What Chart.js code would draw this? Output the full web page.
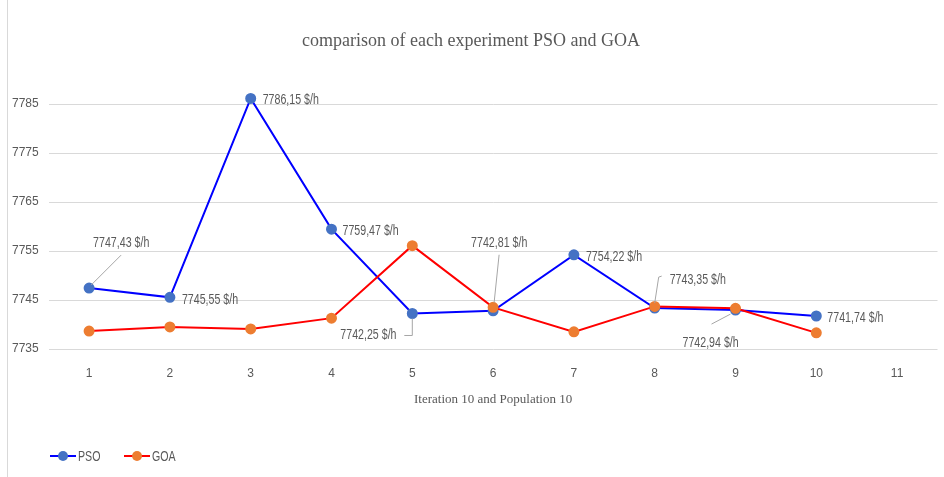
<!DOCTYPE html>
<html>
<head>
<meta charset="utf-8">
<script src="https://cdn.jsdelivr.net/npm/chart.js@4/dist/chart.umd.min.js"></script>
<style>
    html, body { margin: 0; padding: 0; background: #fff; }
    .wrap { position: relative; width: 944px; height: 477px; }
    .frame { position: absolute; left: 7px; top: 0; bottom: 0; border-left: 1px solid #d9d9d9; }
    #legend-exp { position: absolute; left: 50px; top: 448px; display: flex; gap: 29px;
        font: 14px 'Liberation Sans', Arial, sans-serif; color: #595959; }
    .legend-item { display: flex; align-items: center; }
    .legend-mark { position: relative; width: 26px; height: 10px; margin-right: 2px; }
    .legend-mark .ln { position: absolute; left: 0; right: 0; top: 4px; height: 2px; }
    .legend-mark .dot { position: absolute; left: 8px; top: 0; width: 10px; height: 10px; border-radius: 50%; }
    .legend-text { display: inline-block; width: 17px; transform: scaleX(0.76); transform-origin: left center; }
</style>
</head>
<body>
<div class="wrap">
    <canvas id="expChart" width="944" height="477"></canvas>
    <div class="frame"></div>
    <div id="legend-exp"></div>
</div>
<script>
const categories = ['1', '2', '3', '4', '5', '6', '7', '8', '9', '10', '11'];
const psoValues = [7747.43, 7745.55, 7786.15, 7759.47, 7742.25, 7742.81, 7754.22, 7743.35, 7742.94, 7741.74];
const goaValues = [7738.66, 7739.5, 7739.1, 7741.3, 7756.1, 7743.5, 7738.5, 7743.7, 7743.3, 7738.3];
const yTicks = [7735, 7745, 7755, 7765, 7775, 7785];

const sans = "'Liberation Sans', Arial, sans-serif";
const serif = "'Liberation Serif', 'DejaVu Serif', serif";

// where each PSO label sits, relative to its point (text left / middle), plus leader line
const labelOffsets = [
    { dx: 4, dy: -45, leader: [[2, -3], [32, -33]] },
    { dx: 12, dy: 3 },
    { dx: 12, dy: 2 },
    { dx: 11, dy: 2 },
    { dx: -72, dy: 22, leader: [[0, 5], [0, 22], [-8, 22]] },
    { dx: -22, dy: -68, leader: [[1, -8], [6, -56]] },
    { dx: 12, dy: 2 },
    { dx: 15, dy: -28, leader: [[0, -5], [4, -31], [7, -32]] },
    { dx: -53, dy: 33, leader: [[-5, 4], [-24, 14]] },
    { dx: 11, dy: 2 }
];

const ctx = document.getElementById('expChart').getContext('2d');

const data = {
    labels: categories,
    datasets: [{
        label: 'PSO',
        data: psoValues,
        order: 1,
        borderColor: '#0000ff',
        backgroundColor: '#4472c4',
        pointBackgroundColor: '#4472c4',
        pointBorderColor: '#4472c4',
        borderWidth: 2,
        pointRadius: 4.5,
        tension: 0
    }, {
        label: 'GOA',
        data: goaValues,
        order: 0, // drawn on top of PSO, as in the original
        borderColor: '#ff0000',
        backgroundColor: '#ed7d31',
        pointBackgroundColor: '#ed7d31',
        pointBorderColor: '#ed7d31',
        borderWidth: 2,
        pointRadius: 4.5,
        tension: 0
    }]
};

const config = {
    type: 'line',
    data: data,
    options: {
        responsive: false,
        animation: false,
        layout: { padding: { left: 2, right: 4, top: 0, bottom: 66 } },
        scales: {
            x: {
                offset: true,
                grid: { display: false, drawTicks: true, tickLength: 7 },
                border: { display: false },
                ticks: { color: '#595959', font: { family: sans, size: 12 }, padding: 10 },
                title: {
                    display: true,
                    text: 'Iteration 10 and Population 10',
                    color: '#595959',
                    font: { family: serif, size: 13 },
                    padding: { top: 1, bottom: 4 }
                }
            },
            y: {
                min: 7735,
                max: 7790,
                afterBuildTicks: function (axis) {
                    axis.ticks = yTicks.map(v => ({ value: v }));
                },
                grid: { color: '#d9d9d9', drawTicks: false },
                border: { display: false },
                ticks: {
                    color: '#595959',
                    font: { family: sans, size: 12 },
                    padding: 10,
                    callback: v => String(v)
                }
            }
        },
        plugins: {
            legend: { display: false },
            tooltip: { enabled: false },
            title: {
                display: true,
                text: 'comparison of each experiment PSO and GOA',
                color: '#595959',
                font: { family: serif, size: 18, weight: 'normal' },
                padding: { top: 30, bottom: 28 }
            }
        }
    },
    plugins: [{
        id: 'psoLabels',
        afterDatasetsDraw: function (chart) {
            const c = chart.ctx;
            const meta = chart.getDatasetMeta(0);
            c.save();
            meta.data.forEach((pt, i) => {
                const o = labelOffsets[i];
                if (o.leader) {
                    c.strokeStyle = '#a6a6a6';
                    c.lineWidth = 1;
                    c.beginPath();
                    o.leader.forEach((p, j) => {
                        if (j === 0) c.moveTo(pt.x + p[0], pt.y + p[1]);
                        else c.lineTo(pt.x + p[0], pt.y + p[1]);
                    });
                    c.stroke();
                }
                const txt = psoValues[i].toFixed(2).replace('.', ',') + ' $/h';
                // condensed look, like the narrow font of the original
                c.save();
                c.translate(pt.x + o.dx, pt.y + o.dy);
                c.scale(0.76, 1);
                c.font = '14px ' + sans;
                c.fillStyle = '#595959';
                c.textAlign = 'left';
                c.textBaseline = 'middle';
                c.fillText(txt, 0, 0);
                c.restore();
            });
            c.restore();
        }
    }, {
        id: 'customLegend',
        afterUpdate: function (chart) {
            const legendContainer = document.getElementById('legend-exp');
            let legendHTML = '';
            chart.data.datasets.forEach(ds => {
                legendHTML += `<div class="legend-item">
                    <span class="legend-mark"><span class="ln" style="background:${ds.borderColor};"></span><span class="dot" style="background:${ds.pointBackgroundColor};"></span></span>
                    <span class="legend-text">${ds.label}</span>
                </div>`;
            });
            legendContainer.innerHTML = legendHTML;
        }
    }]
};

const expChart = new Chart(ctx, config);
</script>
</body>
</html>
